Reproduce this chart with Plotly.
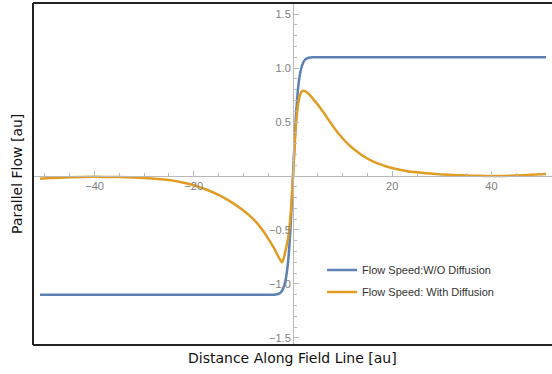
import plotly.graph_objects as go

# ---- data ----
blue_x = [-51, -4, -3.5, -3, -2.5, -2, -1.5, -1, -0.5, 0, 0.5, 1, 1.5, 2, 2.5, 3, 3.5, 4, 51]
blue_y = [-1.10, -1.10, -1.098, -1.093, -1.08, -1.045, -0.965, -0.80, -0.48, 0.0,
          0.48, 0.80, 0.965, 1.045, 1.08, 1.093, 1.098, 1.10, 1.10]

orange_x = [-51, -45, -40, -35, -30, -25, -22.5, -20, -17.5, -15, -12.5, -10, -8, -7,
            -6, -5, -4, -3.2, -2.6, -2.2, -1.8, -1.4, -1.0, -0.6, -0.3, 0,
            0.3, 0.6, 0.9, 1.3, 1.7, 2.2, 2.8, 3.5, 4.2, 5.2, 6.2, 7.2, 8.2, 9.5,
            10.9, 12.5, 14.3, 16, 17.6, 19, 21, 23, 25, 27.5, 30, 33, 35, 37.5,
            40, 42.5, 45, 48, 51]
orange_y = [-0.025, -0.012, -0.008, -0.01, -0.018, -0.038, -0.058, -0.085, -0.125, -0.175,
            -0.24, -0.32, -0.40, -0.45, -0.51, -0.58, -0.655, -0.725, -0.775, -0.80,
            -0.75, -0.67, -0.58, -0.42, -0.24, 0.0,
            0.26, 0.47, 0.62, 0.73, 0.78, 0.79, 0.775, 0.745, 0.705, 0.648, 0.585,
            0.518, 0.452, 0.375, 0.305, 0.24, 0.18, 0.137, 0.107, 0.085, 0.062, 0.045,
            0.034, 0.023, 0.015, 0.008, 0.005, 0.002, 0.0, 0.001, 0.005, 0.011, 0.018]

series_names = ["Flow Speed:W/O Diffusion", "Flow Speed: With Diffusion"]
x_tick_vals = [-40, -20, 20, 40]
x_tick_text = ["\u221240", "\u221220", "20", "40"]
y_tick_vals = [-1.5, -1.0, -0.5, 0.5, 1.0, 1.5]
y_tick_text = ["\u22121.5", "\u22121.0", "\u22120.5", "0.5", "1.0", "1.5"]

x_range = [-52.4, 52.2]
y_range = [-1.565, 1.602]

fig = go.Figure()
fig.add_trace(go.Scatter(x=blue_x, y=blue_y, mode="lines", name=series_names[0],
                         legendgroup="a",
                         line=dict(color="#5E81B5", width=2.5, shape="spline", smoothing=0.6)))
fig.add_trace(go.Scatter(x=orange_x, y=orange_y, mode="lines", name=series_names[1],
                         legendgroup="b",
                         line=dict(color="#E19C24", width=2.5, shape="spline", smoothing=0.5)))

axis_col = "#b9b9b9"
tick_font = dict(family="Liberation Sans, Arial, sans-serif", size=11, color="#808080")

xpos = (0 - y_range[0]) / (y_range[1] - y_range[0])
ypos = (0 - x_range[0]) / (x_range[1] - x_range[0])

fig.update_layout(
    width=552, height=374,
    margin=dict(l=33, r=0, t=3, b=29),
    paper_bgcolor="white", plot_bgcolor="white",
    showlegend=True,
    legend=dict(x=0.557, y=0.262, xanchor="left", yanchor="top",
                bgcolor="rgba(0,0,0,0)", tracegroupgap=3,
                font=dict(family="Liberation Sans, Arial, sans-serif", size=11, color="#333333")),
    xaxis=dict(range=x_range, anchor="free", position=xpos, showgrid=False, zeroline=False,
               showline=True, linecolor=axis_col, linewidth=1,
               ticks="inside", ticklen=5, tickcolor=axis_col, tickwidth=1,
               tickvals=x_tick_vals, ticktext=x_tick_text, tickfont=tick_font,
               minor=dict(dtick=5, tick0=0, ticks="inside", ticklen=3, tickcolor=axis_col, showgrid=False)),
    yaxis=dict(range=y_range, anchor="free", position=ypos, showgrid=False, zeroline=False,
               showline=True, linecolor=axis_col, linewidth=1,
               ticks="inside", ticklen=5, tickcolor=axis_col, tickwidth=1,
               tickvals=y_tick_vals, ticktext=y_tick_text, tickfont=tick_font,
               minor=dict(dtick=0.1, tick0=0, ticks="inside", ticklen=3, tickcolor=axis_col, showgrid=False)),
    shapes=[
        dict(type="line", xref="paper", yref="paper", x0=0, x1=0, y0=0, y1=1,
             line=dict(color="#222222", width=2)),
        dict(type="line", xref="paper", yref="paper", x0=0, x1=1.01, y0=1, y1=1,
             line=dict(color="#222222", width=2)),
        dict(type="line", xref="paper", yref="paper", x0=0, x1=1.01, y0=0, y1=0,
             line=dict(color="#222222", width=2)),
    ],
    annotations=[
        dict(text="Distance Along Field Line [au]", xref="paper", yref="paper",
             x=0.5, y=-0.038, xanchor="center", yanchor="middle", showarrow=False,
             font=dict(family="DejaVu Sans", size=14, color="#111111")),
        dict(text="Parallel Flow [au]", xref="paper", yref="paper",
             x=-0.031, y=0.5, xanchor="center", yanchor="middle", showarrow=False, textangle=-90,
             font=dict(family="DejaVu Sans", size=14, color="#111111")),
    ],
)

fig.write_html("out.html", config={"displayModeBar": False},
               post_script="document.body.style.margin='0';document.body.style.padding='0';document.documentElement.style.overflow='hidden';")
